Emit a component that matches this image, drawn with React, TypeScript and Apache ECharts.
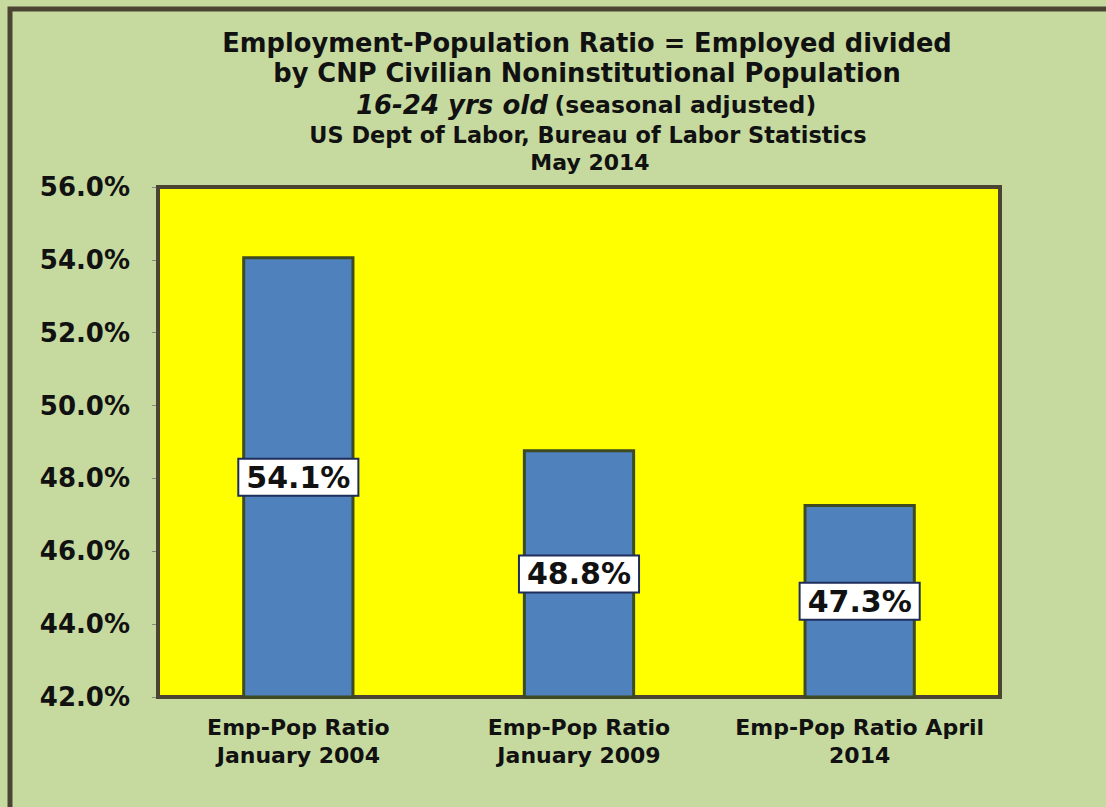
import React, { useEffect, useRef } from "react";
import * as echarts from "echarts";

const categories = [
  "Emp-Pop Ratio\nJanuary 2004",
  "Emp-Pop Ratio\nJanuary 2009",
  "Emp-Pop Ratio April\n2014",
];
const ratioValues = [54.1, 48.8, 47.3];
const titleLines = [
  "Employment-Population Ratio = Employed divided",
  "by CNP Civilian Noninstitutional Population",
];
const subTitleBold = "16-24 yrs old";
const subTitleNote = "(seasonal adjusted)";
const sourceLines = ["US Dept of Labor, Bureau of Labor Statistics", "May 2014"];
const yMin = 42;
const yMax = 56;
const yStep = 2;

export default function App() {
  const ref = useRef<HTMLDivElement>(null);
  useEffect(() => {
    if (!ref.current) return;
    const chart = echarts.init(ref.current, null, { renderer: "svg" });
    const titleFont = "'DejaVu Sans', Verdana, sans-serif";
    const mainFont = "'DejaVu Sans', Verdana, sans-serif";
    chart.setOption({
      animation: false,
      backgroundColor: "#c6daa0",
      graphic: [
        {
          type: "rect",
          silent: true,
          z: -1,
          shape: { x: 10, y: 9, width: 1200, height: 900 },
          style: { fill: "none", stroke: "#4b4433", lineWidth: 5 },
        },
        {
          type: "text",
          x: 587,
          y: 43,
          style: {
            text: titleLines[0],
            align: "center",
            verticalAlign: "middle",
            font: `bold 25.7px ${titleFont}`,
            fill: "#111",
          },
        },
        {
          type: "text",
          x: 587,
          y: 73,
          style: {
            text: titleLines[1],
            align: "center",
            verticalAlign: "middle",
            font: `bold 25.7px ${titleFont}`,
            fill: "#111",
          },
        },
        {
          type: "text",
          x: 586,
          y: 105,
          style: {
            text: `{a|${subTitleBold}}  {b|${subTitleNote}}`,
            align: "center",
            verticalAlign: "middle",
            rich: {
              a: {
                fontFamily: titleFont,
                fontSize: 26,
                fontWeight: "bold",
                fontStyle: "italic",
                fill: "#111",
              },
              b: {
                fontFamily: titleFont,
                fontSize: 23.5,
                fontWeight: "bold",
                fill: "#111",
              },
            },
          },
        },
        {
          type: "text",
          x: 588,
          y: 135,
          style: {
            text: sourceLines[0],
            align: "center",
            verticalAlign: "middle",
            font: `bold 22.4px ${titleFont}`,
            fill: "#111",
          },
        },
        {
          type: "text",
          x: 590,
          y: 162,
          style: {
            text: sourceLines[1],
            align: "center",
            verticalAlign: "middle",
            font: `bold 22px ${titleFont}`,
            fill: "#111",
          },
        },
      ],
      grid: {
        left: 158,
        right: 106,
        top: 187,
        bottom: 110,
        show: true,
        backgroundColor: "#ffff00",
        borderColor: "#4b4433",
        borderWidth: 4,
        z: 1,
      },
      xAxis: {
        type: "category",
        data: categories,
        axisLine: { show: false },
        axisTick: { show: false },
        axisLabel: {
          color: "#111",
          fontFamily: mainFont,
          fontWeight: "bold",
          fontSize: 22,
          lineHeight: 28,
          margin: 16,
          interval: 0,
        },
      },
      yAxis: {
        type: "value",
        min: yMin,
        max: yMax,
        interval: yStep,
        axisLine: { show: false },
        axisTick: { show: true, length: 6, lineStyle: { color: "#888" } },
        splitLine: { show: true, lineStyle: { color: "#a89440", width: 1 } },
        axisLabel: {
          formatter: (v: number) => v.toFixed(1) + "%",
          color: "#111",
          fontFamily: mainFont,
          fontWeight: "bold",
          fontSize: 26,
          margin: 28,
        },
      },
      series: [
        {
          type: "bar",
          data: ratioValues,
          barWidth: "40%",
          itemStyle: {
            color: "#4f81bd",
            borderColor: "#3d4a22",
            borderWidth: 3,
          },
          label: {
            show: true,
            position: "inside",
            formatter: (p: any) => p.value.toFixed(1) + "%",
            color: "#111",
            fontFamily: mainFont,
            fontWeight: "bold",
            fontSize: 30,
            backgroundColor: "#ffffff",
            borderColor: "#1f2d5a",
            borderWidth: 2,
            padding: [3, 7, 2, 7],
          },
        },
      ],
    });
    return () => chart.dispose();
  }, []);
  return (
    <div
      ref={ref}
      style={{ position: "fixed", left: 0, top: 0, width: 1106, height: 807 }}
    />
  );
}
